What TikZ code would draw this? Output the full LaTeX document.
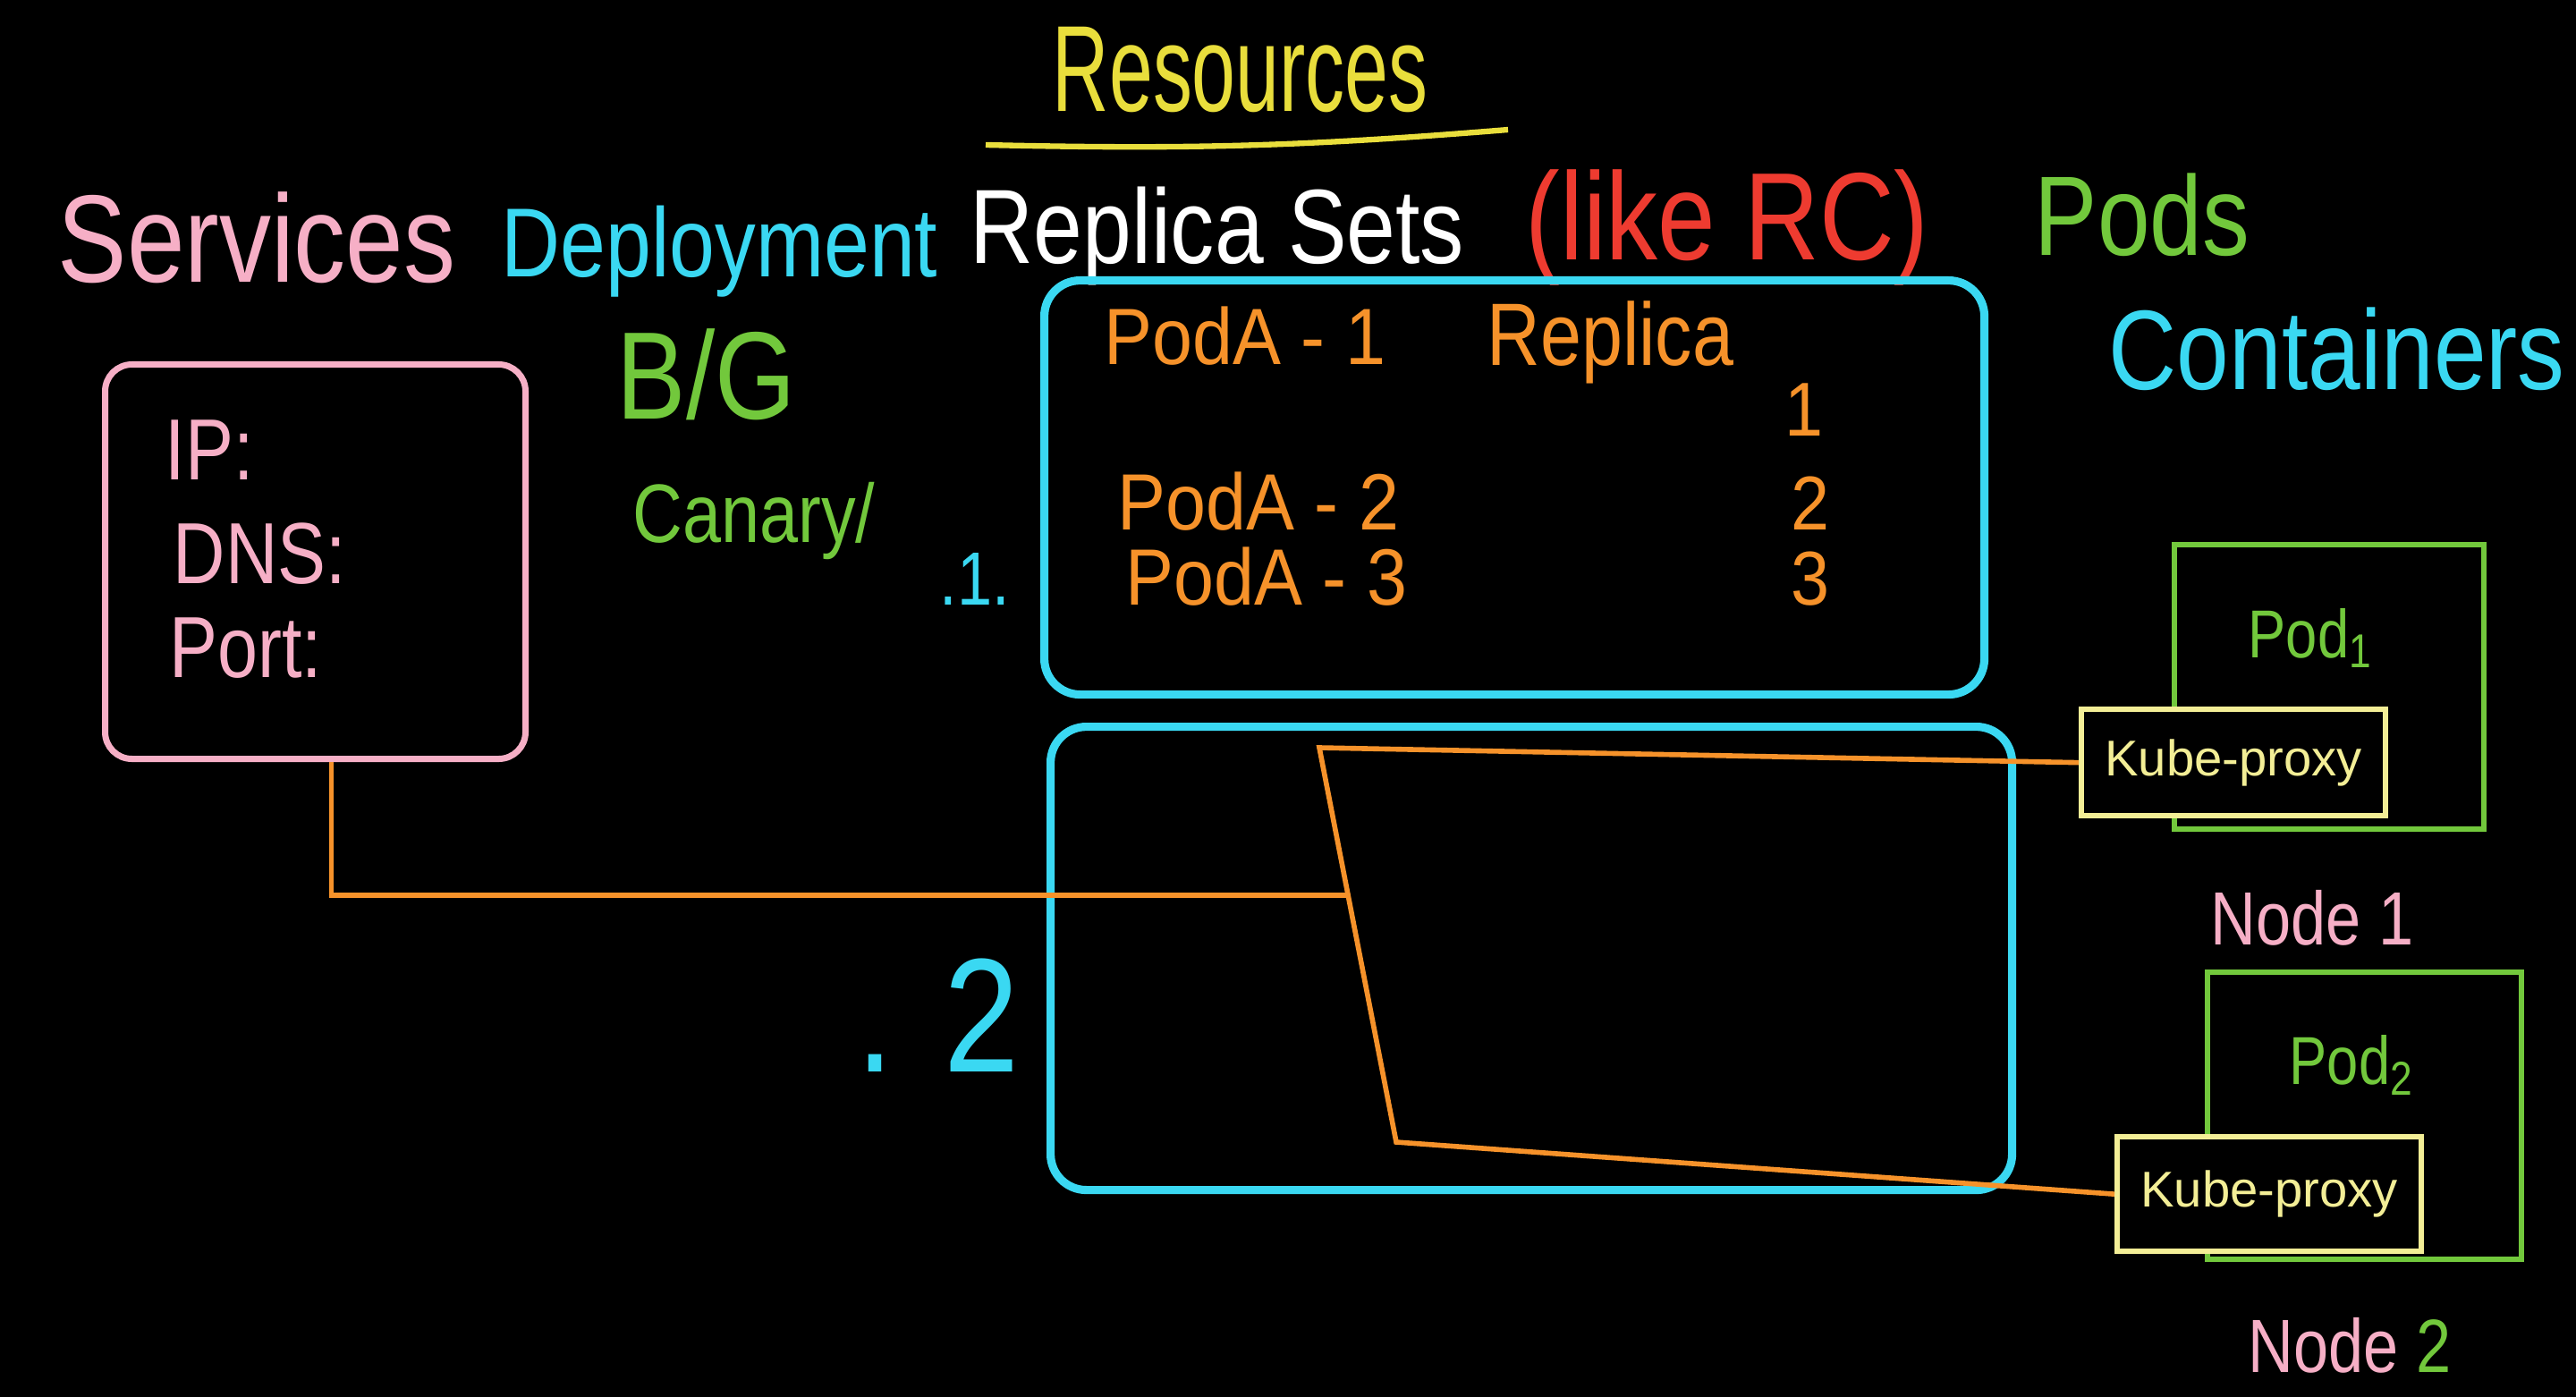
\documentclass[tikz,border=0pt]{standalone}
\usepackage{fontspec}
\setmainfont{Liberation Sans}
\usepackage{tikz}
\usetikzlibrary{calc,positioning}
\definecolor{pinkc}{HTML}{F6AFC6}
\definecolor{cyanc}{HTML}{3AD8F2}
\definecolor{yelc}{HTML}{E9DE3C}
\definecolor{paleyc}{HTML}{F3EE96}
\definecolor{grnc}{HTML}{72C83C}
\definecolor{orc}{HTML}{F6922A}
\definecolor{redc}{HTML}{EE3B30}
\newcommand{\fsz}[1]{\fontsize{#1}{#1}\selectfont}
\tikzset{
  hw/.style={inner sep=0pt,anchor=base west,yscale=1.2},
  cybox/.style={draw=cyanc,line width=2.6pt,rounded corners=0.4cm,anchor=north west,inner sep=0pt},
  podbox/.style={draw=grnc,line width=1.8pt,anchor=north west,inner sep=0pt},
  kpbox/.style={draw=paleyc,line width=1.8pt,fill=black,anchor=north west,inner sep=0pt,text=paleyc,font=\fsz{16}},
  wire/.style={orc,line width=1.6pt}
}

\begin{document}
\begin{tikzpicture}
\fill[black] (0,0) rectangle (28.8,-15.62);
\useasboundingbox (0,0) rectangle (28.8,-15.62);
% header words
\node[hw,yscale=1.3,text=yelc,font=\fsz{25}] (res) at (11.76,-1.25) {Resources};
\draw[yelc,line width=1.8pt] (11.02,-1.62) to[bend right=3] (16.86,-1.45);
\node[hw,text=pinkc,font=\fsz{33}] (svcs) at (0.64,-3.16) {Services};
\node[hw,text=cyanc,font=\fsz{26}] (dep) at (5.60,-3.09) {Deployment};
\node[hw,text=white,font=\fsz{28}] (rsets) at (10.84,-2.94) {Replica Sets};
\node[hw,text=redc,font=\fsz{33}] (likerc) at (17.05,-2.90) {(like RC)};
\node[hw,text=grnc,font=\fsz{30}] (pods) at (22.74,-2.85) {Pods};
\node[hw,text=cyanc,font=\fsz{30}] (cont) at (23.57,-4.35) {Containers};
\node[hw,text=grnc,font=\fsz{33}] (bg) at (6.89,-4.68) {B/G};
\node[hw,text=grnc,font=\fsz{22}] (canary) at (7.07,-6.06) {Canary/};
\node[hw,text=cyanc,font=\fsz{20}] (v1) at (10.50,-6.76) {.1.};
\node[hw,text=cyanc,font=\fsz{43}] (v2) at (9.57,-11.98) {. 2};
% service
\node[draw=pinkc,line width=2pt,rounded corners=0.3cm,minimum width=4.7cm,minimum height=4.41cm,anchor=north west] (svc) at (1.14,-4.04) {};
\node[hw,text=pinkc,font=\fsz{23}] (ip) at (1.84,-5.36) {IP:};
\node[hw,text=pinkc,font=\fsz{23}] (dns) at (1.93,-6.52) {DNS:};
\node[hw,text=pinkc,font=\fsz{23}] (port) at (1.89,-7.57) {Port:};
% replica set
\node[cybox,minimum width=10.51cm,minimum height=4.63cm] (rs) at (11.63,-3.09) {};
\node[hw,yscale=0.92,text=orc,font=\fsz{23}] (poda1) at (12.34,-4.08) {PodA - 1};
\node[hw,text=orc,font=\fsz{23.5}] (repl) at (16.62,-4.08) {Replica};
\node[hw,anchor=base,yscale=0.92,text=orc,font=\fsz{22}] (r1) at (20.17,-4.87) {1};
\node[hw,yscale=0.92,text=orc,font=\fsz{23}] (poda2) at (12.49,-5.92) {PodA - 2};
\node[hw,anchor=base,yscale=0.92,text=orc,font=\fsz{22}] (r2) at (20.24,-5.92) {2};
\node[hw,yscale=0.92,text=orc,font=\fsz{23}] (poda3) at (12.58,-6.76) {PodA - 3};
\node[hw,anchor=base,yscale=0.92,text=orc,font=\fsz{22}] (r3) at (20.24,-6.76) {3};
% deployment
\node[cybox,minimum width=10.75cm,minimum height=5.18cm] (dp) at (11.70,-8.08) {};
% nodes
\node[podbox,minimum width=3.46cm,minimum height=3.18cm] (pod1) at (24.28,-6.06) {};
\node[hw,text=grnc,font=\fsz{18}] (pl1) at (25.13,-7.35) {Pod\textsubscript{1}};
\node[kpbox,minimum width=3.4cm,minimum height=1.19cm] (kp1) at (23.24,-7.90) {Kube-proxy};
\node[hw,text=pinkc,font=\fsz{20}] (n1) at (24.71,-10.56) {Node 1};
\node[podbox,minimum width=3.51cm,minimum height=3.21cm] (pod2) at (24.65,-10.84) {};
\node[hw,text=grnc,font=\fsz{18}] (pl2) at (25.59,-12.12) {Pod\textsubscript{2}};
\node[kpbox,minimum width=3.4cm,minimum height=1.28cm] (kp2) at (23.64,-12.68) {Kube-proxy};
\node[hw,text=pinkc,font=\fsz{20}] (n2) at (25.13,-15.34) {Node \textcolor{grnc}{2}};
% wires
\coordinate (tap) at ($(svc.south)+(0.18,0)$);
\coordinate (jtop) at (14.75,-8.36);
\coordinate (jbot) at (15.61,-12.77);
\draw[wire] (tap) |- ($(jtop)!0.374!(jbot)$);
\draw[wire] (kp1.west) -- (jtop) -- (jbot) -- (kp2.west);
\end{tikzpicture}
\end{document}
